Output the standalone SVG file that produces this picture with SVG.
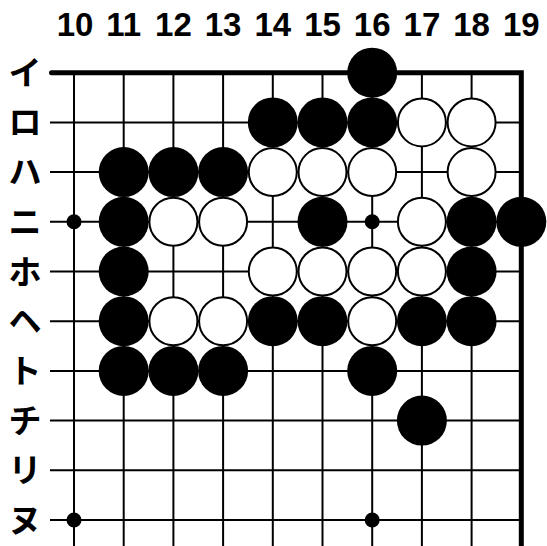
<svg xmlns="http://www.w3.org/2000/svg" width="547" height="546" viewBox="0 0 547 546">
<style>
.bg{fill:#fff}
.ln{stroke:#000;stroke-width:2;fill:none}
.edge{stroke:#000;stroke-width:5;fill:none}
.b{fill:#000}
.w{fill:#fff;stroke:#000;stroke-width:2}
.hoshi{fill:#000}
.col{font-family:"Liberation Sans","Noto Sans CJK JP",sans-serif;font-weight:bold;font-size:33px;text-anchor:middle;fill:#000}
.row{font-family:"Noto Sans CJK JP",sans-serif;font-weight:bold;font-size:33px;text-anchor:middle;fill:#000}
</style>
<rect class="bg" x="0" y="0" width="547" height="546"/>
<g id="column-labels">
<text class="col" x="75" y="36">10</text>
<text class="col" x="123.7" y="36">11</text>
<text class="col" x="173.4" y="36">12</text>
<text class="col" x="223.1" y="36">13</text>
<text class="col" x="272.8" y="36">14</text>
<text class="col" x="322.5" y="36">15</text>
<text class="col" x="372.2" y="36">16</text>
<text class="col" x="421.9" y="36">17</text>
<text class="col" x="471.6" y="36">18</text>
<text class="col" x="521.3" y="36">19</text>
</g>
<g id="row-labels">
<text class="row" x="25" y="84.7">イ</text>
<text class="row" x="25" y="134.4">ロ</text>
<text class="row" x="25" y="184.1">ハ</text>
<text class="row" x="25" y="233.8">ニ</text>
<text class="row" x="25" y="283.5">ホ</text>
<text class="row" x="25" y="333.2">ヘ</text>
<text class="row" x="25" y="382.9">ト</text>
<text class="row" x="25" y="432.6">チ</text>
<text class="row" x="25" y="482.3">リ</text>
<text class="row" x="25" y="532">ヌ</text>
</g>
<g id="grid">
<line class="ln" x1="74" y1="72.7" x2="74" y2="546"/>
<line class="ln" x1="123.7" y1="72.7" x2="123.7" y2="546"/>
<line class="ln" x1="173.4" y1="72.7" x2="173.4" y2="546"/>
<line class="ln" x1="223.1" y1="72.7" x2="223.1" y2="546"/>
<line class="ln" x1="272.8" y1="72.7" x2="272.8" y2="546"/>
<line class="ln" x1="322.5" y1="72.7" x2="322.5" y2="546"/>
<line class="ln" x1="372.2" y1="72.7" x2="372.2" y2="546"/>
<line class="ln" x1="421.9" y1="72.7" x2="421.9" y2="546"/>
<line class="ln" x1="471.6" y1="72.7" x2="471.6" y2="546"/>
<line class="ln" x1="50" y1="122.4" x2="521.3" y2="122.4"/>
<line class="ln" x1="50" y1="172.1" x2="521.3" y2="172.1"/>
<line class="ln" x1="50" y1="221.8" x2="521.3" y2="221.8"/>
<line class="ln" x1="50" y1="271.5" x2="521.3" y2="271.5"/>
<line class="ln" x1="50" y1="321.2" x2="521.3" y2="321.2"/>
<line class="ln" x1="50" y1="370.9" x2="521.3" y2="370.9"/>
<line class="ln" x1="50" y1="420.6" x2="521.3" y2="420.6"/>
<line class="ln" x1="50" y1="470.3" x2="521.3" y2="470.3"/>
<line class="ln" x1="50" y1="520" x2="521.3" y2="520"/>
<path class="edge" d="M51.5 72.7 H521.3 V546" stroke-linecap="round" stroke-linejoin="miter"/>
</g>
<g id="hoshi">
<circle class="hoshi" cx="74" cy="221.8" r="7.5"/>
<circle class="hoshi" cx="372.2" cy="221.8" r="7.5"/>
<circle class="hoshi" cx="74" cy="520" r="7.5"/>
<circle class="hoshi" cx="372.2" cy="520" r="7.5"/>
</g>
<g id="stones">
<g id="b-16-i"><circle class="b" cx="372.2" cy="72.7" r="25"/></g>
<g id="b-14-ro"><circle class="b" cx="272.8" cy="122.4" r="25"/></g>
<g id="b-15-ro"><circle class="b" cx="322.5" cy="122.4" r="25"/></g>
<g id="b-16-ro"><circle class="b" cx="372.2" cy="122.4" r="25"/></g>
<g id="w-17-ro"><circle class="w" cx="421.9" cy="122.4" r="24"/></g>
<g id="w-18-ro"><circle class="w" cx="471.6" cy="122.4" r="24"/></g>
<g id="b-11-ha"><circle class="b" cx="123.7" cy="172.1" r="25"/></g>
<g id="b-12-ha"><circle class="b" cx="173.4" cy="172.1" r="25"/></g>
<g id="b-13-ha"><circle class="b" cx="223.1" cy="172.1" r="25"/></g>
<g id="w-14-ha"><circle class="w" cx="272.8" cy="172.1" r="24"/></g>
<g id="w-15-ha"><circle class="w" cx="322.5" cy="172.1" r="24"/></g>
<g id="w-16-ha"><circle class="w" cx="372.2" cy="172.1" r="24"/></g>
<g id="w-18-ha"><circle class="w" cx="471.6" cy="172.1" r="24"/></g>
<g id="b-11-ni"><circle class="b" cx="123.7" cy="221.8" r="25"/></g>
<g id="w-12-ni"><circle class="w" cx="173.4" cy="221.8" r="24"/></g>
<g id="w-13-ni"><circle class="w" cx="223.1" cy="221.8" r="24"/></g>
<g id="b-15-ni"><circle class="b" cx="322.5" cy="221.8" r="25"/></g>
<g id="w-17-ni"><circle class="w" cx="421.9" cy="221.8" r="24"/></g>
<g id="b-18-ni"><circle class="b" cx="471.6" cy="221.8" r="25"/></g>
<g id="b-19-ni"><circle class="b" cx="521.3" cy="221.8" r="25"/></g>
<g id="b-11-ho"><circle class="b" cx="123.7" cy="271.5" r="25"/></g>
<g id="w-14-ho"><circle class="w" cx="272.8" cy="271.5" r="24"/></g>
<g id="w-15-ho"><circle class="w" cx="322.5" cy="271.5" r="24"/></g>
<g id="w-16-ho"><circle class="w" cx="372.2" cy="271.5" r="24"/></g>
<g id="w-17-ho"><circle class="w" cx="421.9" cy="271.5" r="24"/></g>
<g id="b-18-ho"><circle class="b" cx="471.6" cy="271.5" r="25"/></g>
<g id="b-11-he"><circle class="b" cx="123.7" cy="321.2" r="25"/></g>
<g id="w-12-he"><circle class="w" cx="173.4" cy="321.2" r="24"/></g>
<g id="w-13-he"><circle class="w" cx="223.1" cy="321.2" r="24"/></g>
<g id="b-14-he"><circle class="b" cx="272.8" cy="321.2" r="25"/></g>
<g id="b-15-he"><circle class="b" cx="322.5" cy="321.2" r="25"/></g>
<g id="w-16-he"><circle class="w" cx="372.2" cy="321.2" r="24"/></g>
<g id="b-17-he"><circle class="b" cx="421.9" cy="321.2" r="25"/></g>
<g id="b-18-he"><circle class="b" cx="471.6" cy="321.2" r="25"/></g>
<g id="b-11-to"><circle class="b" cx="123.7" cy="370.9" r="25"/></g>
<g id="b-12-to"><circle class="b" cx="173.4" cy="370.9" r="25"/></g>
<g id="b-13-to"><circle class="b" cx="223.1" cy="370.9" r="25"/></g>
<g id="b-16-to"><circle class="b" cx="372.2" cy="370.9" r="25"/></g>
<g id="b-17-chi"><circle class="b" cx="421.9" cy="420.6" r="25"/></g>
</g>
</svg>
